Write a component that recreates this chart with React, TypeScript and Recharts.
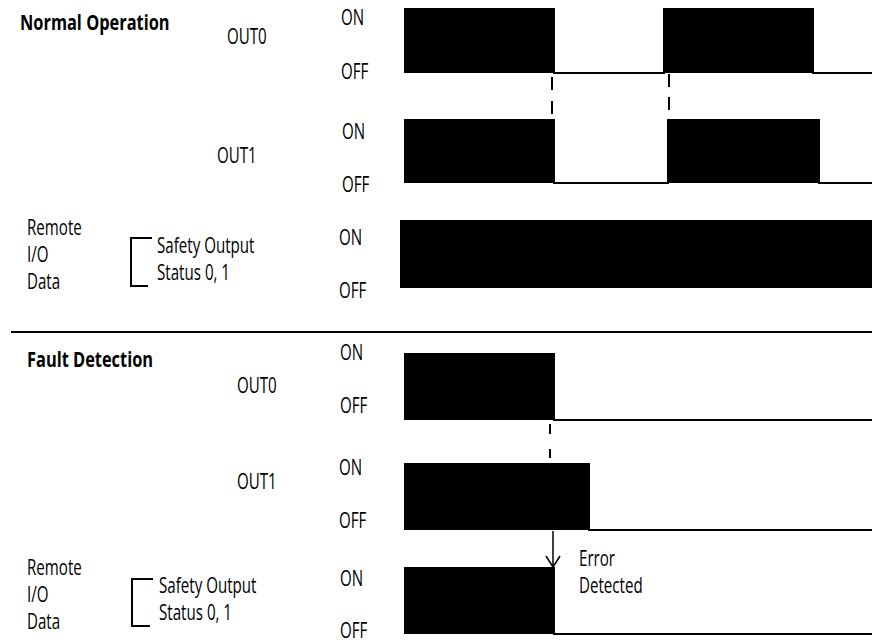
import React from "react";
import { ComposedChart, Area, XAxis, YAxis, ReferenceLine } from "recharts";

/* time axis in ms, 0 = left edge of the signal area */
const T_END = 472;

/* each trace: transition times + state after that time (1 = ON, 0 = OFF) */
const normalOut0Times = [4, 154, 264, 413, T_END];
const normalOut0States = [1, 0, 1, 0, 0];
const normalOut1Times = [4, 154, 268, 419, T_END];
const normalOut1States = [1, 0, 1, 0, 0];
const normalStatusTimes = [0, T_END];
const normalStatusStates = [1, 1];

const faultOut0Times = [4, 154, T_END];
const faultOut0States = [1, 0, 0];
const faultOut1Times = [4, 189, T_END];
const faultOut1States = [1, 0, 0];
const faultStatusTimes = [4, 154, T_END];
const faultStatusStates = [1, 0, 0];

/* signal levels of each lane on the vertical scale (top = 0) */
const lanes = {
  n0: { on: 9, off: 73 },
  n1: { on: 120, off: 183 },
  nS: { on: 221, off: 288 },
  f0: { on: 354, off: 420 },
  f1: { on: 464, off: 530 },
  fS: { on: 568, off: 634 },
};

const stateLabels = ["ON", "OFF"];

function trace(times: number[], states: number[], lane: { on: number; off: number }) {
  return times.map((t, i) => ({ t, v: states[i] ? lane.on : lane.off }));
}

const series = [
  { key: "n0", data: trace(normalOut0Times, normalOut0States, lanes.n0), base: lanes.n0.off },
  { key: "n1", data: trace(normalOut1Times, normalOut1States, lanes.n1), base: lanes.n1.off },
  { key: "nS", data: trace(normalStatusTimes, normalStatusStates, lanes.nS), base: lanes.nS.off },
  { key: "f0", data: trace(faultOut0Times, faultOut0States, lanes.f0), base: lanes.f0.off },
  { key: "f1", data: trace(faultOut1Times, faultOut1States, lanes.f1), base: lanes.f1.off },
  { key: "fS", data: trace(faultStatusTimes, faultStatusStates, lanes.fS), base: lanes.fS.off },
];

const FONT = '"Open Sans", "DejaVu Sans", sans-serif';

// condensed look (the original uses a condensed face): squeeze horizontally
function Txt({ x, y, children, bold, size = 21 }: { x: number; y: number; children: React.ReactNode; bold?: boolean; size?: number }) {
  return (
    <div
      style={{
        position: "absolute", left: x, top: y - size / 2, fontSize: size, lineHeight: `${size}px`,
        fontWeight: bold ? 700 : 400, whiteSpace: "nowrap", color: "#000",
        transform: `scaleX(${bold ? 0.78 : 0.72})`, transformOrigin: "left center",
      }}
    >
      {children}
    </div>
  );
}

function Bracket({ x, top, bottom, topLen, bottomLen }: { x: number; top: number; bottom: number; topLen: number; bottomLen: number }) {
  return (
    <>
      <div style={{ position: "absolute", left: x, top, width: 2, height: bottom - top, background: "#000" }} />
      <div style={{ position: "absolute", left: x, top, width: topLen, height: 2, background: "#000" }} />
      <div style={{ position: "absolute", left: x, top: bottom - 2, width: bottomLen, height: 2, background: "#000" }} />
    </>
  );
}

export default function App() {
  return (
    <div style={{ position: "absolute", left: 0, top: 0, width: 872, height: 643, background: "#fff", fontFamily: FONT }}>
      <div style={{ position: "absolute", left: 0, top: 0 }}>
        <ComposedChart width={872} height={643} margin={{ top: 0, right: 0, bottom: 0, left: 400 }}>
          <XAxis type="number" dataKey="t" domain={[0, T_END]} hide allowDataOverflow />
          <YAxis type="number" domain={[0, 643]} reversed hide allowDataOverflow />
          {series.map((s) => (
            <Area
              key={s.key}
              data={s.data}
              dataKey="v"
              type="stepAfter"
              baseValue={s.base}
              stroke="#000"
              strokeWidth={2}
              fill="#000"
              fillOpacity={1}
              dot={false}
              activeDot={false}
              isAnimationActive={false}
            />
          ))}
          <ReferenceLine segment={[{ x: 152, y: 77 }, { x: 152, y: 116 }]} stroke="#000" strokeWidth={2} strokeDasharray="13 11" />
          <ReferenceLine segment={[{ x: 269, y: 74 }, { x: 269, y: 114 }]} stroke="#000" strokeWidth={2} strokeDasharray="13 10" />
          <ReferenceLine segment={[{ x: 150, y: 424 }, { x: 150, y: 458 }]} stroke="#000" strokeWidth={2} strokeDasharray="10 15" />
          {/* error detected arrow */}
          <ReferenceLine segment={[{ x: 153, y: 531 }, { x: 153, y: 567 }]} stroke="#000" strokeWidth={1.5} />
          <ReferenceLine segment={[{ x: 146, y: 556 }, { x: 153, y: 567 }]} stroke="#000" strokeWidth={1.5} />
          <ReferenceLine segment={[{ x: 160, y: 556 }, { x: 153, y: 567 }]} stroke="#000" strokeWidth={1.5} />
        </ComposedChart>
      </div>

      {/* separator */}
      <div style={{ position: "absolute", left: 11, top: 331, width: 861, height: 2, background: "#000" }} />

      {/* Normal operation */}
      <Txt x={20} y={22} bold>Normal Operation</Txt>
      <Txt x={227} y={36.5}>OUT0</Txt>
      <Txt x={341} y={17.5}>{stateLabels[0]}</Txt>
      <Txt x={341} y={71}>{stateLabels[1]}</Txt>
      <Txt x={217} y={155}>OUT1</Txt>
      <Txt x={342} y={131}>{stateLabels[0]}</Txt>
      <Txt x={342} y={184}>{stateLabels[1]}</Txt>
      <Txt x={27} y={227.5}>Remote</Txt>
      <Txt x={27} y={254.5}>I/O</Txt>
      <Txt x={27} y={281}>Data</Txt>
      <Bracket x={130} top={237} bottom={287} topLen={22} bottomLen={18} />
      <Txt x={157} y={245.5}>Safety Output</Txt>
      <Txt x={157} y={272.5}>Status 0, 1</Txt>
      <Txt x={339} y={237}>{stateLabels[0]}</Txt>
      <Txt x={339} y={290}>{stateLabels[1]}</Txt>

      {/* Fault detection */}
      <Txt x={27} y={359} bold>Fault Detection</Txt>
      <Txt x={237} y={385}>OUT0</Txt>
      <Txt x={340} y={352}>{stateLabels[0]}</Txt>
      <Txt x={340} y={405}>{stateLabels[1]}</Txt>
      <Txt x={237} y={481}>OUT1</Txt>
      <Txt x={339} y={467}>{stateLabels[0]}</Txt>
      <Txt x={339} y={520}>{stateLabels[1]}</Txt>
      <Txt x={27} y={567}>Remote</Txt>
      <Txt x={27} y={594}>I/O</Txt>
      <Txt x={27} y={621}>Data</Txt>
      <Bracket x={131} top={578} bottom={627} topLen={22} bottomLen={19} />
      <Txt x={159} y={585.5}>Safety Output</Txt>
      <Txt x={159} y={612.5}>Status 0, 1</Txt>
      <Txt x={340} y={578}>{stateLabels[0]}</Txt>
      <Txt x={340} y={630}>{stateLabels[1]}</Txt>
      <Txt x={579} y={558.5}>Error</Txt>
      <Txt x={579} y={585}>Detected</Txt>
    </div>
  );
}
